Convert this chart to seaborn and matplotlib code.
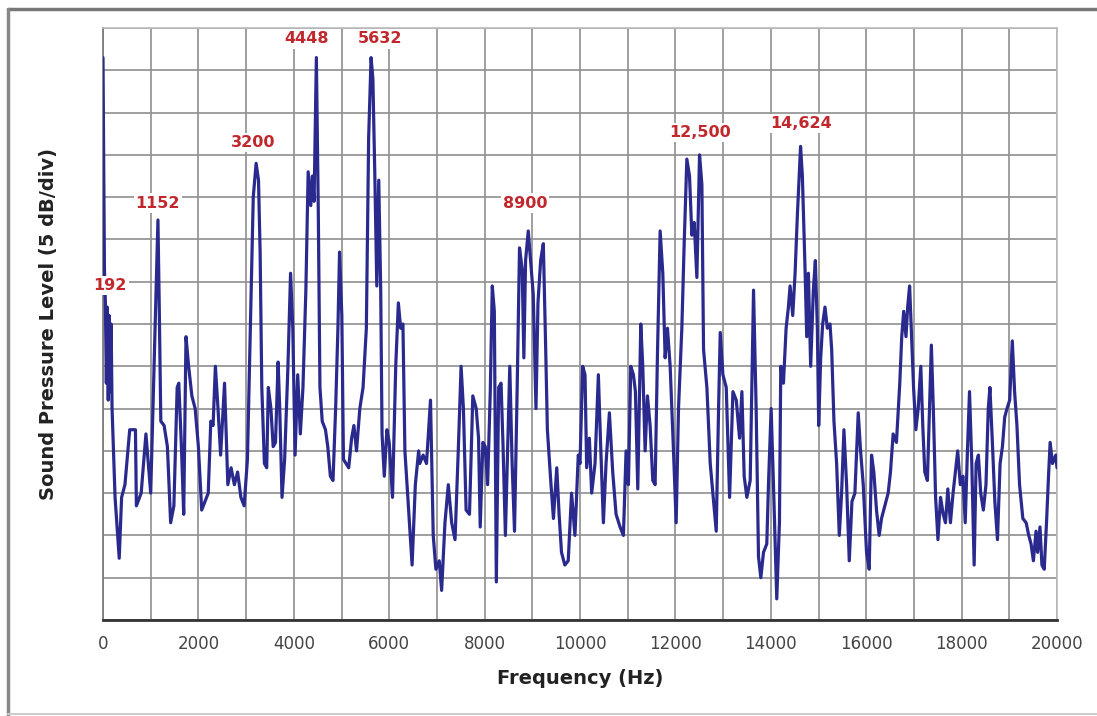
import numpy as np
import pandas as pd
import matplotlib
matplotlib.use("Agg")
import matplotlib.pyplot as plt
from matplotlib.lines import Line2D
from matplotlib.ticker import MultipleLocator
import seaborn as sns

# spectrum: frequency (Hz) and level (dB, 5 dB per grid division)
freq_hz = [
    0, 30, 50, 70, 90, 110, 130, 150, 170, 190, 253, 340, 390, 460, 560, 680, 700, 800, 900, 1000,
    1152, 1178, 1212, 1281, 1350, 1418, 1486, 1555, 1589, 1644, 1692, 1740, 1795, 1863, 1932, 2000,
    2069, 2137, 2206, 2260, 2308, 2356, 2411, 2466, 2548, 2617, 2685, 2754, 2822, 2891, 2959, 3028,
    3083, 3150, 3210, 3260, 3294, 3329, 3384, 3432, 3466, 3520, 3568, 3616, 3671, 3705, 3753, 3808,
    3877, 3932, 3979, 4027, 4082, 4137, 4192, 4253, 4301, 4356, 4390, 4425, 4473, 4514, 4548, 4596,
    4664, 4712, 4767, 4822, 4877, 4925, 4959, 5007, 5041, 5096, 5151, 5212, 5260, 5315, 5384, 5452,
    5521, 5569, 5620, 5658, 5699, 5740, 5781, 5822, 5850, 5897, 5952, 6000, 6069, 6137, 6192, 6240,
    6288, 6329, 6397, 6480, 6548, 6617, 6641, 6711, 6782, 6866, 6923, 6979, 7049, 7099, 7169, 7239,
    7310, 7380, 7451, 7507, 7556, 7612, 7683, 7753, 7824, 7873, 7908, 7964, 8014, 8063, 8119, 8161,
    8204, 8246, 8295, 8345, 8387, 8436, 8485, 8528, 8577, 8627, 8683, 8732, 8788, 8823, 8859, 8915,
    8964, 9020, 9077, 9119, 9175, 9231, 9281, 9316, 9386, 9443, 9513, 9562, 9612, 9682, 9753, 9823,
    9894, 9964, 10000, 10056, 10105, 10140, 10196, 10245, 10315, 10385, 10434, 10490, 10546, 10616,
    10686, 10756, 10840, 10910, 10966, 11015, 11064, 11120, 11162, 11211, 11274, 11316, 11365, 11414,
    11470, 11526, 11575, 11624, 11680, 11736, 11785, 11834, 11890, 11960, 12016, 12065, 12135, 12184,
    12240, 12296, 12345, 12394, 12450, 12506, 12555, 12590, 12660, 12730, 12800, 12856, 12905, 12940,
    12996, 13066, 13136, 13206, 13276, 13345, 13394, 13442, 13498, 13568, 13638, 13693, 13742, 13791,
    13847, 13916, 13951, 14007, 14056, 14125, 14181, 14209, 14265, 14321, 14369, 14404, 14460, 14509,
    14558, 14624, 14662, 14718, 14753, 14788, 14836, 14892, 14934, 14976, 15004, 15046, 15087, 15136,
    15185, 15241, 15276, 15324, 15380, 15436, 15484, 15533, 15589, 15645, 15701, 15763, 15833, 15882,
    15938, 16007, 16063, 16112, 16160, 16216, 16272, 16321, 16391, 16460, 16509, 16565, 16634, 16704,
    16745, 16786, 16834, 16869, 16910, 16952, 16993, 17041, 17090, 17145, 17186, 17228, 17283, 17324,
    17366, 17407, 17455, 17504, 17559, 17614, 17662, 17711, 17766, 17821, 17869, 17918, 17973, 18028,
    18076, 18125, 18166, 18214, 18263, 18304, 18352, 18401, 18456, 18511, 18559, 18594, 18649, 18697,
    18752, 18807, 18856, 18904, 18952, 19008, 19063, 19111, 19160, 19215, 19284, 19353, 19408, 19456,
    19505, 19560, 19594, 19643, 19684, 19732, 19780, 19822, 19856, 19905, 19974, 20000,
]
level_db = [
    66.5, 41.5, 37.5, 28, 37, 26, 36, 27, 35, 25, 14.5, 7.3, 14.5, 16, 22.5, 22.5, 13.5, 15, 22, 15,
    47.3, 37.5, 23.5, 23, 20.5, 11.5, 13.5, 27.5, 28, 20.5, 12.5, 33.5, 30, 26.5, 25, 20.5,
    13, 14, 15, 23.5, 23, 30, 25, 19.5, 28, 16, 18, 16, 17.5, 14.5, 13.5, 19,
    33, 50, 54, 52, 43.5, 27.5, 18.5, 18, 27.5, 25, 20.5, 21, 30.5, 25, 14.5, 19,
    30, 41, 34.5, 19.5, 29, 22, 27.5, 39, 53, 49, 52.5, 49.5, 66.5, 48, 27.5, 23.5,
    22.5, 20.5, 17, 16.5, 25, 34.5, 43.5, 36, 19, 18.5, 18, 21.5, 23, 20, 25, 27.5,
    34.5, 57, 66.5, 64, 52.5, 39.5, 52, 39, 22, 17, 22.5, 21, 14.5, 30, 37.5, 34.5,
    35, 20, 14, 6.5, 16, 20, 18.5, 19.5, 18.5, 26, 10, 6, 7, 3.5, 11.5, 16,
    11.5, 9.5, 20.5, 30, 25, 13, 12.5, 26.5, 25, 21.5, 11, 21, 20.5, 16, 27, 39.5,
    36.5, 4.5, 27.5, 28, 20.5, 10, 20.5, 30, 18.5, 10.5, 27.5, 44, 41.5, 31, 42.5, 46,
    42.5, 38.5, 25, 37.5, 42.5, 44.5, 32, 22.5, 16.5, 12, 18, 12.5, 8, 6.5, 7, 15,
    10, 19.5, 18.5, 30, 29, 18, 21.5, 15, 18.5, 29, 20.5, 11.5, 18.5, 24.5,
    17.5, 12.5, 11, 10, 20, 16, 30, 29, 27, 15.5, 35, 30, 20, 26.5,
    23, 16.5, 16, 31.5, 46, 41, 31, 34.5, 30, 20, 11.5, 25, 34.5, 44.5,
    54.5, 52.5, 45.5, 47, 40.5, 55, 51.5, 32, 27.5, 18.5, 14, 10.5, 25, 34,
    29, 27.5, 14.5, 27, 26, 21.5, 27, 17, 14.5, 16.5, 39, 25, 7.5, 5,
    8, 9, 16, 25, 16, 2.5, 11.5, 30, 28, 34.5, 37, 39.5, 36, 41,
    48, 56, 52.5, 41.5, 33.5, 41, 30, 39, 42.5, 34.5, 23, 31, 35, 37,
    34.5, 35, 32, 23.5, 18.5, 10, 15, 22.5, 16, 7, 14, 15, 24.5, 20,
    16, 8, 6, 19.5, 17.5, 13, 10, 12, 13.5, 15, 17.5, 22, 21, 28,
    33.5, 36.5, 33.5, 37, 39.5, 33.5, 27.5, 22.5, 25, 30, 23, 17.5, 16.5, 24.5,
    32.5, 25, 14.5, 9.5, 14.5, 12.5, 11.5, 15.5, 11.5, 15, 17.5, 20, 16, 17,
    11.5, 20.5, 27, 18.5, 6.5, 18.5, 19.5, 15, 13, 16, 25, 27.5, 20.5, 14,
    9.5, 18.5, 20.5, 24, 25, 26, 33, 27, 23, 16, 12, 11.5, 10, 9,
    7, 10.5, 8, 11, 6.5, 6, 11.5, 17, 21, 18.5, 19.5, 18,
]

# peak labels: text, x (Hz), y (dB)
peak_labels = ["192", "1152", "3200", "4448", "5632", "8900", "12,500", "14,624"]
label_x = [150, 1150, 3150, 4260, 5800, 8850, 12520, 14630]
label_y = [39.6, 49.3, 56.5, 68.7, 68.7, 49.3, 57.6, 58.7]

df = pd.DataFrame({"Frequency": freq_hz, "Level": level_db})

sns.set_theme(style="white")
plt.rcParams["font.family"] = ["DejaVu Sans"]

fig = plt.figure(figsize=(10.97, 7.16), dpi=100)
ax = fig.add_axes([103 / 1097, 1 - 620 / 716, (1057 - 103) / 1097, (620 - 28) / 716])

sns.lineplot(data=df, x="Frequency", y="Level", ax=ax, color="#2a2a8e",
             linewidth=2.3, sort=False, estimator=None, zorder=3)

ax.set_xlim(0, 20000)
ax.set_ylim(0, 70)
ax.xaxis.set_major_locator(MultipleLocator(2000))
ax.xaxis.set_minor_locator(MultipleLocator(1000))
ax.yaxis.set_major_locator(MultipleLocator(5))
ax.grid(which="both", axis="x", color="#8f8f8f", linewidth=1.2)
ax.grid(which="major", axis="y", color="#8f8f8f", linewidth=1.2)
ax.set_axisbelow(True)
ax.set_yticklabels([])
ax.tick_params(axis="y", length=0)
ax.tick_params(axis="x", which="both", length=4, color="#888888", direction="out",
               labelsize=12, labelcolor="#444444", pad=7)

for side in ["top", "right"]:
    ax.spines[side].set_color("#bbbbbb")
    ax.spines[side].set_linewidth(1.2)
ax.spines["left"].set_color("#777777")
ax.spines["left"].set_linewidth(1.2)
ax.spines["bottom"].set_color("#333333")
ax.spines["bottom"].set_linewidth(2)

ax.set_xlabel("Frequency (Hz)", fontsize=14, fontweight="bold", color="#222222", labelpad=11)
ax.set_ylabel("Sound Pressure Level (5 dB/div)", fontsize=14, fontweight="bold",
              color="#222222", labelpad=29)

for txt, x, y in zip(peak_labels, label_x, label_y):
    ax.text(x, y, txt, ha="center", va="center", fontsize=11.5, fontweight="bold",
            color="#c0282d", zorder=5, clip_on=False,
            bbox=dict(facecolor="white", edgecolor="none", pad=1.5))

# outer frame of the picture
fig.add_artist(Line2D([8 / 1097, 1], [1 - 9 / 716, 1 - 9 / 716], color="#777777", linewidth=2.5))
fig.add_artist(Line2D([8 / 1097, 8 / 1097], [1 - 9 / 716, 0], color="#888888", linewidth=2.5))
fig.add_artist(Line2D([8 / 1097, 1], [2 / 716, 2 / 716], color="#cccccc", linewidth=1.5))

fig.savefig("out.png", dpi=100, facecolor="white")
plt.close(fig)
